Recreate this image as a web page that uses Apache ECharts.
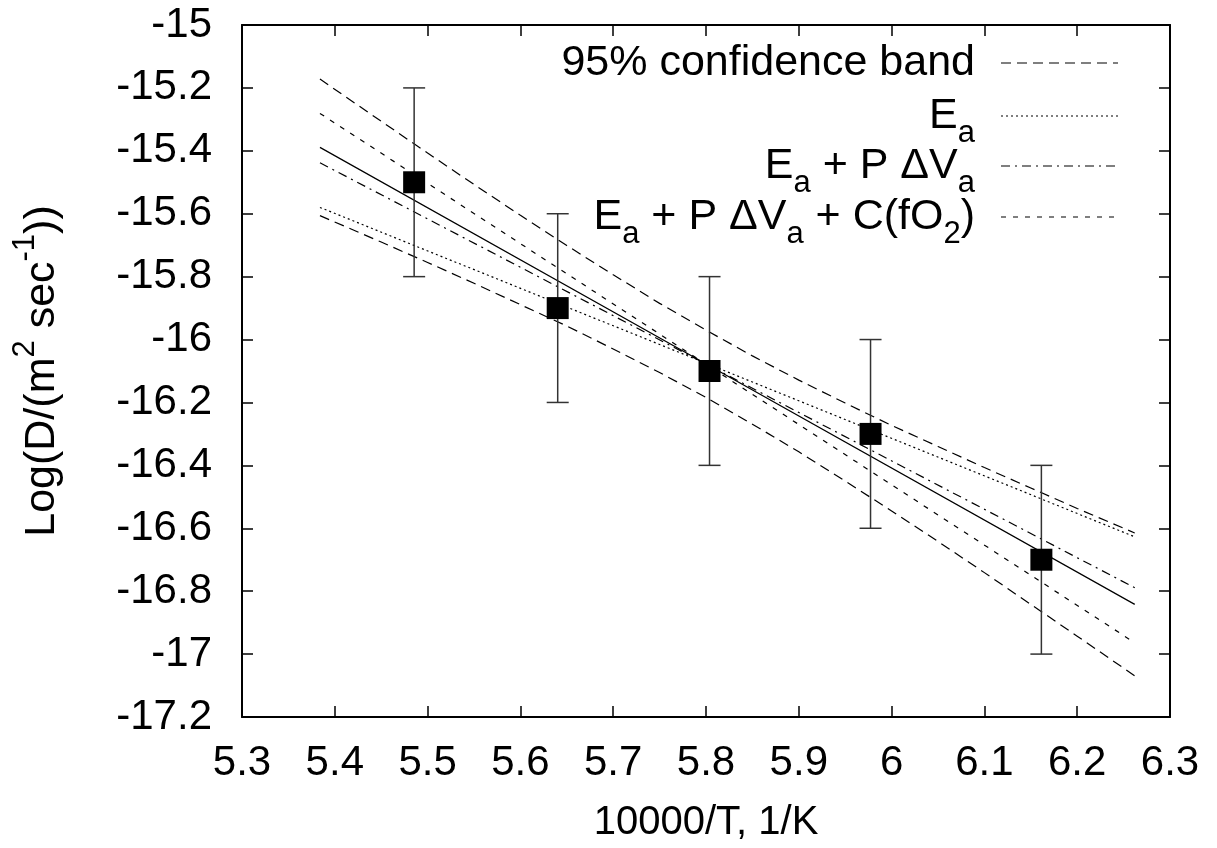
<!DOCTYPE html>
<html>
<head>
<meta charset="utf-8">
<script src="https://cdn.jsdelivr.net/npm/echarts@6/dist/echarts.min.js"></script>
<style>
html,body{margin:0;padding:0;background:#fff;}
#chart{width:1217px;height:848px;}
</style>
</head>
<body>
<div id="chart"></div>
<script>
// ---- data ----
const xPts = [5.4855, 5.6402, 5.8038, 5.9773, 6.1614];
const yPts = [-15.5, -15.9, -16.1, -16.3, -16.7];
const yErr = [0.3, 0.3, 0.3, 0.3, 0.3];

const lineX = [5.384, 5.804, 6.262];
const fitAll = [-15.389, -16.084, -16.842];
const fitEa = [-15.58, -16.080, -16.627];
const fitEaPV = [-15.438, -16.084, -16.789];
const fitEaPVC = [-15.281, -16.086, -16.964];

const bandX = [5.384, 5.45, 5.5, 5.55, 5.6, 5.65, 5.7, 5.75, 5.8, 5.85, 5.9, 5.95, 6.0, 6.05, 6.1, 6.15, 6.2, 6.262];
const bandUpper = [-15.172, -15.306, -15.407, -15.507, -15.605, -15.701, -15.794, -15.885, -15.970, -16.052, -16.129, -16.202, -16.273, -16.340, -16.407, -16.472, -16.537, -16.615];
const bandLower = [-15.606, -15.690, -15.755, -15.821, -15.889, -15.957, -16.030, -16.105, -16.184, -16.269, -16.357, -16.450, -16.545, -16.642, -16.741, -16.842, -16.943, -17.069];

const legendNames = ['95% confidence band', 'E_a', 'E_a + P ΔV_a', 'E_a + P ΔV_a + C(fO_2)'];
const xTitle = '10000/T, 1/K';

// ---- build ----
const FONT = 'Liberation Sans, Arial, Helvetica, sans-serif';
const FS_TICK = 42;
const FS_XT = 40;
const FS_YT = 43;
const FS_LEG = 43;
const zip = (xs, ys) => xs.map((x, i) => [x, ys[i]]);

const dashBand = [10, 6];
const dashEa = [2, 3];
const dashEaPV = [9, 5, 2, 5];
const dashEaPVC = [5, 7];

function lineSeries(name, data, dash) {
  return {
    name: name, type: 'line', data: data, symbol: 'none', smooth: false,
    lineStyle: { color: '#000', width: 1.2, type: dash },
    z: 3, silent: true
  };
}

const richSub = {
  m: { fontSize: FS_LEG, fontFamily: FONT, fill: '#000', lineHeight: 54, verticalAlign: 'top' },
  s: { fontSize: 31, fontFamily: FONT, fill: '#000', lineHeight: 26, verticalAlign: 'bottom' }
};
function toRich(label) {
  // convert "X_a" style labels to rich text tokens
  const parts = label.split(/_(\w)/);
  let out = '';
  parts.forEach((p, i) => {
    if (p === '') return;
    out += (i % 2 === 1) ? '{s|' + p + '}' : '{m|' + p + '}';
  });
  return out;
}

const legendDash = [dashBand, dashEa, dashEaPV, dashEaPVC];
const rowY = [63, 116, 166, 217];
const graphics = [];
legendNames.forEach((n, i) => {
  graphics.push({
    type: 'text', x: 975, y: rowY[i] + 6,
    style: { text: toRich(n), rich: richSub, align: 'right', verticalAlign: 'middle', fill: '#000', fontSize: FS_LEG, fontFamily: FONT }
  });
  graphics.push({
    type: 'line', shape: { x1: 1001, y1: rowY[i], x2: 1118, y2: rowY[i] },
    style: { stroke: '#000', lineWidth: 1.2, lineDash: legendDash[i] }
  });
});

const axisCommon = {
  type: 'value', splitLine: { show: false },
  axisLine: { show: true, lineStyle: { color: '#000', width: 2 } },
  axisTick: { show: true, inside: true, length: 11, lineStyle: { color: '#000', width: 1.5 } }
};

const option = {
  animation: false,
  backgroundColor: '#fff',
  grid: { left: 242, right: 47, top: 25, bottom: 131, containLabel: false },
  xAxis: [
    Object.assign({}, axisCommon, {
      min: 5.3, max: 6.3, interval: 0.1, position: 'bottom',
      axisLabel: { show: true, margin: 25, fontSize: FS_TICK, fontFamily: FONT, color: '#000' },
      name: xTitle, nameLocation: 'middle', nameGap: 86,
      nameTextStyle: { fontSize: FS_XT, fontFamily: FONT, color: '#000' }
    }),
    Object.assign({}, axisCommon, {
      min: 5.3, max: 6.3, interval: 0.1, position: 'top', axisLabel: { show: false }
    })
  ],
  yAxis: [
    Object.assign({}, axisCommon, {
      min: -17.2, max: -15, interval: 0.2, position: 'left',
      axisLabel: { show: true, margin: 30, fontSize: FS_TICK, fontFamily: FONT, color: '#000' },
      name: '{t|Log(D/(m}{p|2}{t| sec}{p|-1}{t|))}', nameLocation: 'middle', nameRotate: 90, nameGap: 178,
      nameTextStyle: {
        fontSize: FS_YT, fontFamily: FONT, color: '#000',
        rich: {
          t: { fontSize: FS_YT, fontFamily: FONT, color: '#000', lineHeight: 54, verticalAlign: 'bottom' },
          p: { fontSize: 31, fontFamily: FONT, color: '#000', lineHeight: 28, verticalAlign: 'top' }
        }
      }
    }),
    Object.assign({}, axisCommon, {
      min: -17.2, max: -15, interval: 0.2, position: 'right', axisLabel: { show: false }
    })
  ],
  graphic: graphics,
  series: [
    lineSeries(legendNames[0] + ' upper', zip(bandX, bandUpper), dashBand),
    lineSeries(legendNames[0] + ' lower', zip(bandX, bandLower), dashBand),
    lineSeries('fit', zip(lineX, fitAll), 'solid'),
    lineSeries(legendNames[1], zip(lineX, fitEa), dashEa),
    lineSeries(legendNames[2], zip(lineX, fitEaPV), dashEaPV),
    lineSeries(legendNames[3], zip(lineX, fitEaPVC), dashEaPVC),
    {
      name: 'error', type: 'custom', z: 4, silent: true,
      data: xPts.map((x, i) => [x, yPts[i], yErr[i]]),
      renderItem: function (params, api) {
        const x = api.value(0), y = api.value(1), e = api.value(2);
        const top = api.coord([x, y + e]);
        const bot = api.coord([x, y - e]);
        const hw = 11;
        const st = { stroke: '#333', lineWidth: 1.5 };
        return {
          type: 'group',
          children: [
            { type: 'line', shape: { x1: top[0], y1: top[1], x2: bot[0], y2: bot[1] }, style: st },
            { type: 'line', shape: { x1: top[0] - hw, y1: top[1], x2: top[0] + hw, y2: top[1] }, style: st },
            { type: 'line', shape: { x1: bot[0] - hw, y1: bot[1], x2: bot[0] + hw, y2: bot[1] }, style: st }
          ]
        };
      }
    },
    {
      name: 'data', type: 'scatter', symbol: 'rect', symbolSize: 22, z: 5, silent: true,
      itemStyle: { color: '#000', opacity: 1 },
      data: zip(xPts, yPts)
    }
  ]
};

const chart = echarts.init(document.getElementById('chart'), null, { renderer: 'canvas' });
chart.setOption(option);
</script>
</body>
</html>
